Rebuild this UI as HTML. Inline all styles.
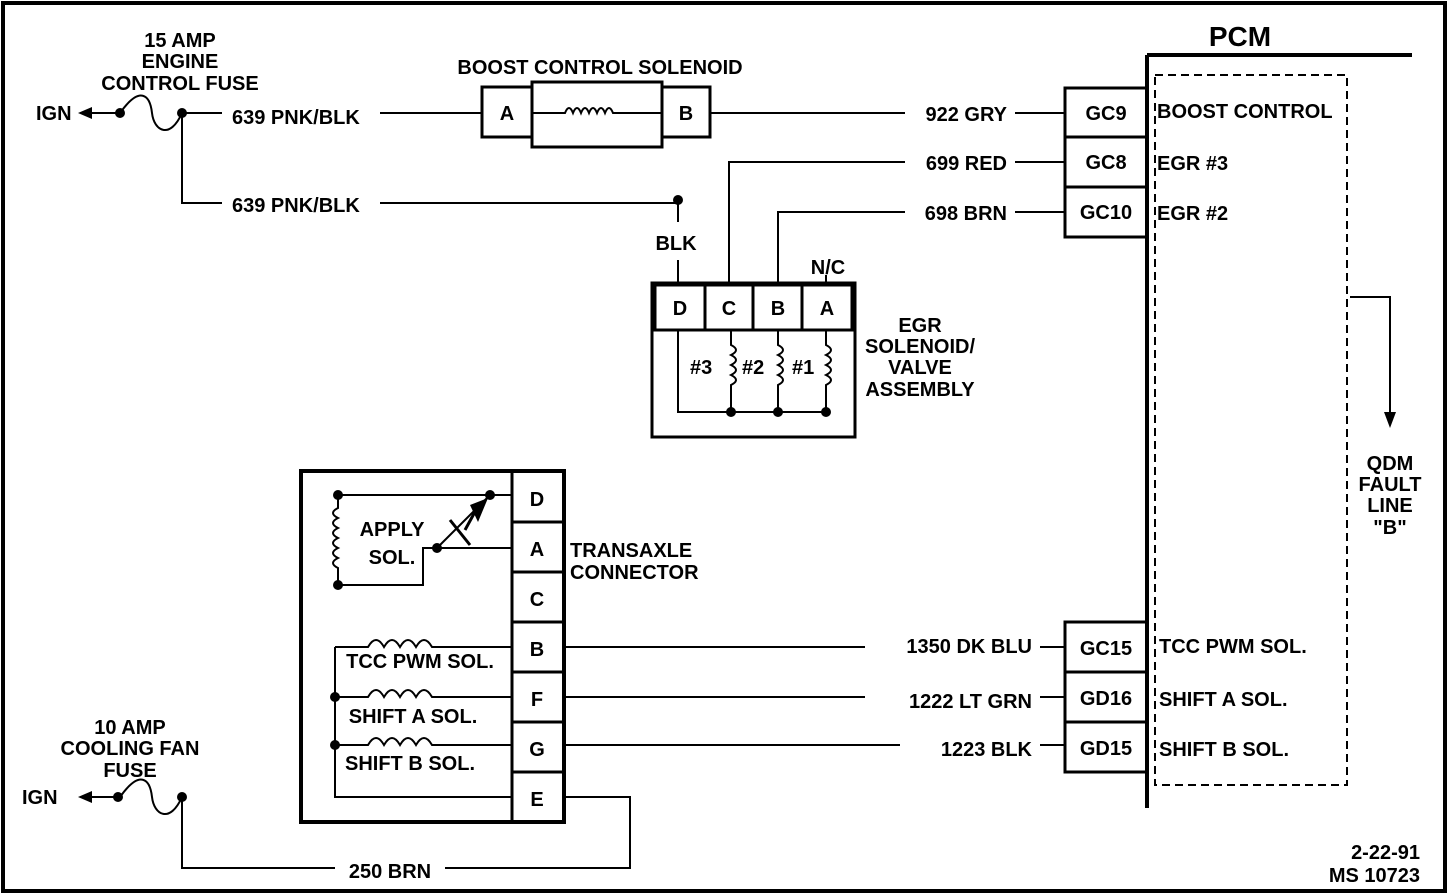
<!DOCTYPE html>
<html><head><meta charset="utf-8"><style>
html,body{margin:0;padding:0;background:#fff}
svg{display:block}
text{font-family:"Liberation Sans",sans-serif;font-weight:bold;font-size:20px;fill:#000}
</style></head><body>
<svg width="1456" height="896" viewBox="0 0 1456 896" xmlns="http://www.w3.org/2000/svg">
<g fill="none" stroke="#000" stroke-width="2">
<rect x="3" y="3" width="1442" height="888" stroke-width="4"/>
<path d="M1147 55 V808 M1147 55 H1412" stroke-width="4"/>
<path d="M1155 75 H1347 V785 H1155 V75" stroke-dasharray="8,5"/>
<path d="M1350 297 H1390 V420"/>
<rect x="1065" y="88" width="82" height="49" stroke-width="3"/>
<rect x="1065" y="137" width="82" height="50" stroke-width="3"/>
<rect x="1065" y="187" width="82" height="50" stroke-width="3"/>
<rect x="1065" y="622" width="82" height="50" stroke-width="3"/>
<rect x="1065" y="672" width="82" height="50" stroke-width="3"/>
<rect x="1065" y="722" width="82" height="50" stroke-width="3"/>
<path d="M710 113 H905 M1015 113 H1065"/>
<path d="M729 285 V162 H905 M1015 162 H1065"/>
<path d="M778 285 V212 H905 M1015 212 H1065"/>
<rect x="482" y="87" width="50" height="50" stroke-width="3"/>
<rect x="532" y="82" width="130" height="65" stroke-width="3"/>
<rect x="662" y="87" width="48" height="50" stroke-width="3"/>
<path d="M532 113 H565 q4 -10 8 0 q4 -10 8 0 q4 -10 8 0 q4 -10 8 0 q4 -10 8 0 q4 -10 8 0 H662"/>
<path d="M380 113 H482"/>
<path d="M118 113 H82"/>
<path d="M120 113 C140 85 150 95 152 113 S170 140 182 113"/>
<path d="M182 113 H222 M182 113 V203 H222 M380 203 H678 V222 M678 260 V285"/>
<rect x="652" y="283" width="203" height="154" stroke-width="3"/>
<rect x="655" y="285" width="50" height="45" stroke-width="3"/>
<rect x="705" y="285" width="48" height="45" stroke-width="3"/>
<rect x="753" y="285" width="49" height="45" stroke-width="3"/>
<rect x="802" y="285" width="50" height="45" stroke-width="3"/>
<path d="M826 285 V275"/>
<path d="M678 330 V412 H826"/>
<path d="M731 330 V345 q10 5 0 10 q10 5 0 10 q10 5 0 10 q10 5 0 10 V412"/>
<path d="M778 330 V345 q10 5 0 10 q10 5 0 10 q10 5 0 10 q10 5 0 10 V412"/>
<path d="M826 330 V345 q10 5 0 10 q10 5 0 10 q10 5 0 10 q10 5 0 10 V412"/>
<rect x="301" y="471" width="263" height="351" stroke-width="4"/>
<path d="M512 471 V822" stroke-width="3"/>
<path d="M512 522 H564 M512 572 H564 M512 622 H564 M512 672 H564 M512 722 H564 M512 772 H564" stroke-width="3"/>
<path d="M338 495 H512"/>
<path d="M338 495 V508 q-10 5 0 10 q-10 5 0 10 q-10 5 0 10 q-10 5 0 10 q-10 5 0 10 q-10 5 0 10 V585 H423 V548 H437"/>
<path d="M437 548 H512"/>
<path d="M437 548 L490 495"/>
<path d="M450 520 L470 545 M476 510 L465 530" stroke-width="3"/>
<path d="M335 647 H368 q8 -14 16 0 q8 -14 16 0 q8 -14 16 0 q8 -14 16 0 H512"/>
<path d="M335 697 H368 q8 -14 16 0 q8 -14 16 0 q8 -14 16 0 q8 -14 16 0 H512"/>
<path d="M335 745 H368 q8 -14 16 0 q8 -14 16 0 q8 -14 16 0 q8 -14 16 0 H512"/>
<path d="M335 647 V797 H512"/>
<path d="M564 647 H865 M1040 647 H1065"/>
<path d="M564 697 H865 M1040 697 H1065"/>
<path d="M564 745 H900 M1040 745 H1065"/>
<path d="M564 797 H630 V868 H445 M335 868 H182 V797"/>
<path d="M118 797 H82"/>
<path d="M120 797 C140 769 150 779 152 797 S170 824 182 797"/>
</g>
<g fill="#000">
<polygon points="78,113 92,107 92,119"/>
<polygon points="78,797 92,791 92,803"/>
<polygon points="1390,428 1384,412 1396,412"/>
<polygon points="470,505 488,498 478,522"/>
<circle cx="120" cy="113" r="5"/><circle cx="182" cy="113" r="5"/>
<circle cx="118" cy="797" r="5"/><circle cx="182" cy="797" r="5"/>
<circle cx="678" cy="200" r="5"/>
<circle cx="731" cy="412" r="5"/><circle cx="778" cy="412" r="5"/><circle cx="826" cy="412" r="5"/>
<circle cx="338" cy="495" r="5"/><circle cx="490" cy="495" r="5"/><circle cx="338" cy="585" r="5"/><circle cx="437" cy="548" r="5"/>
<circle cx="335" cy="697" r="5"/><circle cx="335" cy="745" r="5"/>
</g>
<text x="1240" y="46" text-anchor="middle" style="font-size:28px">PCM</text>
<g text-anchor="middle">
<text x="180" y="47">15 AMP</text><text x="180" y="68">ENGINE</text><text x="180" y="90">CONTROL FUSE</text>
<text x="600" y="74">BOOST CONTROL SOLENOID</text>
<text x="507" y="120">A</text><text x="686" y="120">B</text>
<text x="1106" y="120">GC9</text><text x="1106" y="169">GC8</text><text x="1106" y="219">GC10</text>
<text x="1106" y="655">GC15</text><text x="1106" y="705">GD16</text><text x="1106" y="755">GD15</text>
<text x="676" y="250">BLK</text><text x="828" y="274">N/C</text>
<text x="680" y="315">D</text><text x="729" y="315">C</text><text x="778" y="315">B</text><text x="827" y="315">A</text>
<text x="920" y="332">EGR</text><text x="920" y="353">SOLENOID/</text><text x="920" y="374">VALVE</text><text x="920" y="396">ASSEMBLY</text>
<text x="1390" y="470">QDM</text><text x="1390" y="491">FAULT</text><text x="1390" y="512">LINE</text><text x="1390" y="534">"B"</text>
<text x="537" y="506">D</text><text x="537" y="556">A</text><text x="537" y="606">C</text><text x="537" y="656">B</text><text x="537" y="706">F</text><text x="537" y="756">G</text><text x="537" y="806">E</text>
<text x="392" y="536">APPLY</text><text x="392" y="564">SOL.</text>
<text x="420" y="668">TCC PWM SOL.</text><text x="413" y="723">SHIFT A SOL.</text><text x="410" y="770">SHIFT B SOL.</text>
<text x="130" y="734">10 AMP</text><text x="130" y="755">COOLING FAN</text><text x="130" y="777">FUSE</text>
<text x="390" y="878">250 BRN</text>
</g>
<text x="36" y="120">IGN</text><text x="22" y="804">IGN</text>
<text x="232" y="124">639 PNK/BLK</text><text x="232" y="212">639 PNK/BLK</text>
<text x="1007" y="121" text-anchor="end">922 GRY</text><text x="1007" y="170" text-anchor="end">699 RED</text><text x="1007" y="220" text-anchor="end">698 BRN</text>
<text x="1157" y="118">BOOST CONTROL</text><text x="1157" y="170">EGR #3</text><text x="1157" y="220">EGR #2</text>
<text x="690" y="374">#3</text><text x="742" y="374">#2</text><text x="792" y="374">#1</text>
<text x="570" y="557">TRANSAXLE</text><text x="570" y="579">CONNECTOR</text>
<text x="1032" y="653" text-anchor="end">1350 DK BLU</text>
<text x="1032" y="708" text-anchor="end">1222 LT GRN</text>
<text x="1032" y="756" text-anchor="end">1223 BLK</text>
<text x="1159" y="653">TCC PWM SOL.</text><text x="1159" y="706">SHIFT A SOL.</text><text x="1159" y="756">SHIFT B SOL.</text>
<text x="1420" y="859" text-anchor="end">2-22-91</text><text x="1420" y="882" text-anchor="end">MS 10723</text>
</svg>
</body></html>
